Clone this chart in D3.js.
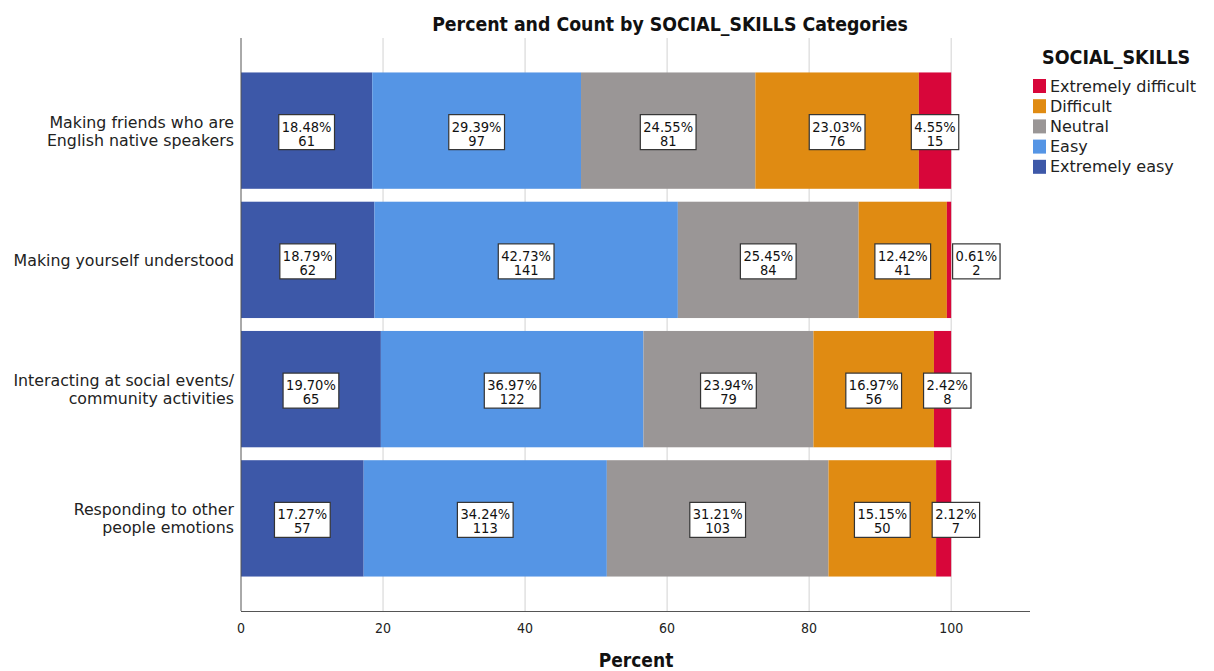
<!DOCTYPE html>
<html>
<head>
<meta charset="utf-8">
<script src="https://cdn.jsdelivr.net/npm/d3@7"></script>
<style>
  html, body { margin: 0; padding: 0; background: #fff; }
  svg { display: block; }
</style>
</head>
<body>
<svg id="chart" width="1214" height="671"></svg>
<script>
// Survey items (rows of the stacked bar chart)
const items = [
  ["Making friends who are", "English native speakers"],
  ["Making yourself understood"],
  ["Interacting at social events/", "community activities"],
  ["Responding to other", "people emotions"]
];

// Response categories, in stacking order (left to right)
const categories = ["Extremely easy", "Easy", "Neutral", "Difficult", "Extremely difficult"];
const colors = ["#3d58a8", "#5595e5", "#9a9696", "#e08b12", "#d8063a"];

// Counts per item, one value per category
const extremelyEasy      = [61, 62, 65, 57];
const easy               = [97, 141, 122, 113];
const neutral            = [81, 84, 79, 103];
const difficult          = [76, 41, 56, 50];
const extremelyDifficult = [15, 2, 8, 7];

const xTicks = [0, 20, 40, 60, 80, 100];

const seriesCounts = [extremelyEasy, easy, neutral, difficult, extremelyDifficult];

const svg = d3.select("#chart");
const fontCond = "'DejaVu Sans Condensed', 'DejaVu Sans', sans-serif";
const fontReg = "'DejaVu Sans', sans-serif";

const x = d3.scaleLinear().domain([0, 111.1]).range([241, 1030]);
const y = d3.scaleBand().domain(d3.range(items.length)).range([66, 583]).paddingInner(0.1).paddingOuter(0.05);

const plotTop = 38, plotBottom = 611;

// Build stacked rows as percentages
const rows = items.map((it, i) => {
  const counts = seriesCounts.map(s => s[i]);
  const total = d3.sum(counts);
  let acc = 0;
  return counts.map((c, k) => {
    const pct = c / total * 100;
    const seg = { row: i, cat: k, count: c, pct, x0: acc, x1: acc + pct };
    acc += pct;
    return seg;
  });
});

// Gridlines
svg.append("g").selectAll("line")
  .data(xTicks.filter(t => t > 0))
  .join("line")
  .attr("x1", d => x(d)).attr("x2", d => x(d))
  .attr("y1", plotTop).attr("y2", plotBottom)
  .attr("stroke", "#d2d2d2").attr("stroke-width", 1);

// Bars
const barG = svg.append("g");
rows.forEach(row => {
  barG.selectAll(null).data(row).join("rect")
    .attr("x", d => x(d.x0))
    .attr("y", d => y(d.row))
    .attr("width", d => x(d.x1) - x(d.x0))
    .attr("height", y.bandwidth())
    .attr("fill", d => colors[d.cat]);
});

// Axes lines
svg.append("line").attr("x1", 241).attr("x2", 241).attr("y1", plotTop).attr("y2", plotBottom)
  .attr("stroke", "#555").attr("stroke-width", 1);
svg.append("line").attr("x1", 241).attr("x2", 1030).attr("y1", plotBottom + 0.5).attr("y2", plotBottom + 0.5)
  .attr("stroke", "#555").attr("stroke-width", 1);

// X tick labels
svg.append("g").selectAll("text")
  .data(xTicks).join("text")
  .attr("x", d => x(d)).attr("y", 633)
  .attr("text-anchor", "middle")
  .attr("font-family", fontCond).attr("font-size", 14).attr("fill", "#222")
  .text(d => d);

// X axis title
svg.append("text").attr("x", 636).attr("y", 667).attr("text-anchor", "middle")
  .attr("font-family", fontCond).attr("font-weight", "bold").attr("font-size", 19).attr("fill", "#111")
  .text("Percent");

// Chart title
svg.append("text").attr("x", 670).attr("y", 31).attr("text-anchor", "middle")
  .attr("font-family", fontCond).attr("font-weight", "bold").attr("font-size", 19.3).attr("fill", "#111")
  .text("Percent and Count by SOCIAL_SKILLS Categories");

// Y category labels
items.forEach((lines, i) => {
  const cy = y(i) + y.bandwidth() / 2;
  const lh = 18;
  const t = svg.append("text").attr("text-anchor", "end")
    .attr("font-family", fontReg).attr("font-size", 15.8).attr("fill", "#222");
  lines.forEach((ln, j) => {
    t.append("tspan").attr("x", 234)
      .attr("y", cy + (j - (lines.length - 1) / 2) * lh + 6)
      .text(ln);
  });
});

// Value labels (percent + count) in white boxes
const labelG = svg.append("g");
rows.forEach(row => {
  let prevRight = -Infinity;
  row.forEach(d => {
    const cx0 = x((d.x0 + d.x1) / 2);
    const cy = y(d.row) + y.bandwidth() / 2;
    const g = labelG.append("g");
    const l1 = d.pct.toFixed(2) + "%";
    const l2 = String(d.count);
    const t = g.append("text").attr("text-anchor", "middle")
      .attr("font-family", fontCond).attr("font-size", 14.5).attr("fill", "#111");
    t.append("tspan").attr("x", 0).attr("y", -1).text(l1);
    t.append("tspan").attr("x", 0).attr("y", 13).text(l2);
    const bb = t.node().getBBox();
    const w = bb.width + 6, h = 35;
    let cx = cx0;
    const minLeft = prevRight + 22;
    if (cx - w / 2 < minLeft) cx = minLeft + w / 2;
    g.insert("rect", "text")
      .attr("x", -w / 2).attr("y", -h / 2 - 0.5)
      .attr("width", w).attr("height", h)
      .attr("fill", "#fff").attr("stroke", "#333").attr("stroke-width", 1.2);
    g.attr("transform", `translate(${cx},${cy + 2})`);
    prevRight = cx + w / 2;
  });
});

// Legend
const legend = svg.append("g");
legend.append("text").attr("x", 1042).attr("y", 64)
  .attr("font-family", fontCond).attr("font-weight", "bold").attr("font-size", 19.5).attr("fill", "#111")
  .text("SOCIAL_SKILLS");
const legendOrder = d3.range(categories.length).reverse();
legendOrder.forEach((k, i) => {
  const ly = 86 + i * 20.2;
  legend.append("rect").attr("x", 1033).attr("y", ly - 7).attr("width", 13).attr("height", 14)
    .attr("fill", colors[k]);
  legend.append("text").attr("x", 1050).attr("y", ly + 5.5)
    .attr("font-family", fontReg).attr("font-size", 16).attr("fill", "#222")
    .text(categories[k]);
});
</script>
</body>
</html>
